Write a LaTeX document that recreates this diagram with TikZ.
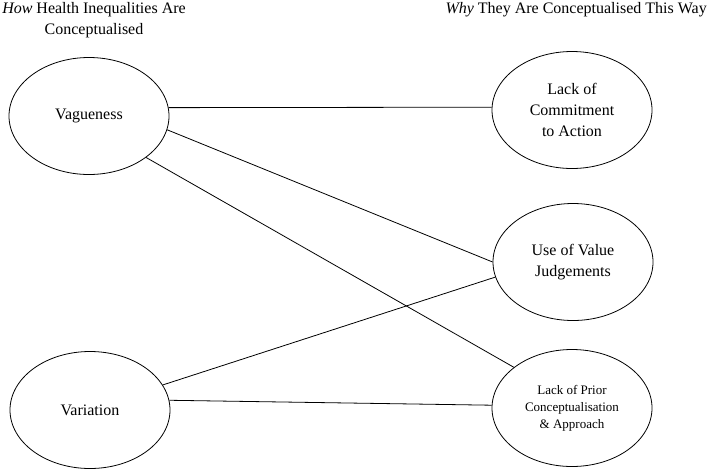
\documentclass[tikz,border=0pt]{standalone}
\usepackage{fontspec}
\setmainfont{Liberation Serif}
\usetikzlibrary{shapes.geometric}

\begin{document}
\begin{tikzpicture}[
    x=1pt, y=-1pt,
    concept/.style={draw, ellipse, line width=0.8pt, minimum width=160pt, minimum height=117pt, inner sep=0pt, align=center, font=\fontsize{16}{21}\selectfont},
    smallconcept/.style={concept, font=\fontsize{13}{17}\selectfont},
    heading/.style={inner sep=0pt, align=center, font=\fontsize{16}{21}\selectfont},
    link/.style={line width=0.8pt},
]
\useasboundingbox (0,0) rectangle (709,472);

% === Headings ===
\node[heading, anchor=north] (howhead) at (94,2) {\textit{How} Health Inequalities Are\\Conceptualised};
\node[heading, anchor=north east] (whyhead) at (707,2) {\textit{Why} They Are Conceptualised This Way};

% === How (left column) ===
\node[concept] (vague) at (89,116) {Vagueness};
\node[concept] (variation) at (90,410) {Variation};

% === Why (right column) ===
\node[concept] (commit) at (572,110) {Lack of\\Commitment\\to Action};
\node[concept] (value) at (573,262) {Use of Value\\Judgements};
\node[smallconcept] (prior) at (572,408) {Lack of Prior\\Conceptualisation\\\& Approach};

% === Links ===
\draw[link] (vague.6.5) -- (commit.178);
\draw[link] (vague.-10) -- (value.180);
\draw[link] (vague.-36.6) -- (prior.145);
\draw[link] (variation.19.6) -- (value.191.6);
\draw[link] (variation.7) -- (prior.178);

\end{tikzpicture}
\end{document}
